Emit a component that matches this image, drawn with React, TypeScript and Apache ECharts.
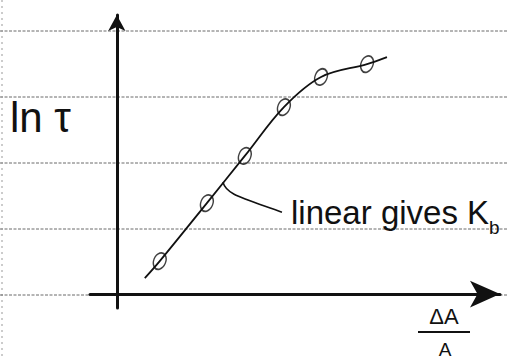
import React, { useEffect, useRef } from "react";
import * as echarts from "echarts";

// Hand-drawn sketch: ln(tau) vs ΔA/A (arbitrary units)
const curveX = [0.73, 1.12, 2.35, 3.34, 4.36, 5.33, 6.53, 7.05];
const curveY = [0.57, 1.18, 3.26, 4.95, 6.7, 7.78, 8.24, 8.49];
const pointX = [1.12, 2.35, 3.34, 4.36, 5.33, 6.53];
const pointY = [1.18, 3.26, 4.95, 6.7, 7.78, 8.24];
const leaderAt = [2.77, 4.01];
const yTitle = "ln τ";
const xTitleTop = "ΔA";
const xTitleBottom = "A";
const noteText = "linear gives K";
const noteSub = "b";
const ruledRows = [31, 97, 163, 229];

const INK = "#111";
const FONT = "Liberation Sans";

export default function App() {
  const ref = useRef<HTMLDivElement>(null);
  useEffect(() => {
    if (!ref.current) return;
    const chart = echarts.init(ref.current, null, { renderer: "svg" });
    chart.setOption({
      animation: false,
      backgroundColor: "#fff",
      grid: { left: 90, top: 15, width: 410, height: 293, containLabel: false },
      xAxis: {
        type: "value",
        min: -0.7,
        max: 10,
        axisLine: {
          show: true,
          onZero: true,
          symbol: ["none", "arrow"],
          symbolSize: [20, 30],
          lineStyle: { color: INK, width: 3 },
        },
        axisTick: { show: false },
        axisLabel: { show: false },
        splitLine: { show: false },
      },
      yAxis: {
        type: "value",
        min: -0.5,
        max: 10,
        axisLine: {
          show: true,
          onZero: true,
          symbol: ["none", "arrow"],
          symbolSize: [13, 16],
          lineStyle: { color: INK, width: 3 },
        },
        axisTick: { show: false },
        axisLabel: { show: false },
        splitLine: { show: false },
      },
      series: [
        {
          type: "scatter",
          data: pointX.map((x, i) => [x, pointY[i]]),
          symbol: "circle",
          symbolSize: [12, 17],
          symbolRotate: -22,
          itemStyle: { color: "rgba(0,0,0,0)", borderColor: INK, borderWidth: 1.6 },
          z: 2,
        },
        {
          type: "line",
          data: curveX.map((x, i) => [x, curveY[i]]),
          smooth: 0.35,
          symbol: "none",
          lineStyle: { color: INK, width: 1.8 },
          z: 3,
        },
      ],
    });

    const [ax, ay] = chart.convertToPixel({ gridIndex: 0 }, leaderAt) as number[];

    const graphic: any[] = [];
    ruledRows.forEach((y) => {
      graphic.push({
        type: "line",
        shape: { x1: 0, y1: y, x2: 508, y2: y },
        style: { stroke: "#6a6a6a", lineWidth: 1, lineDash: [3, 1.5] },
        z: -10,
      });
    });
    graphic.push({
      type: "line",
      shape: { x1: 2, y1: 0, x2: 2, y2: 360 },
      style: { stroke: "#999", lineWidth: 1, lineDash: [2, 4] },
      z: -10,
    });
    graphic.push({
      type: "line",
      shape: { x1: 0, y1: 295, x2: 508, y2: 295 },
      style: { stroke: "#6a6a6a", lineWidth: 1, lineDash: [3, 1.5] },
      z: -10,
    });
    graphic.push({
      type: "bezierCurve",
      shape: {
        x1: ax,
        y1: ay,
        cpx1: ax + 3,
        cpy1: ay + 12,
        cpx2: ax + 17,
        cpy2: ay + 15,
        x2: ax + 59,
        y2: ay + 30,
      },
      style: { stroke: INK, lineWidth: 1.6, fill: null },
    });
    graphic.push({
      type: "text",
      x: 10,
      y: 96,
      style: { text: yTitle, fontSize: 42, fontFamily: FONT, fill: INK, verticalAlign: "top" },
    });
    graphic.push({
      type: "text",
      x: 291,
      y: 229,
      style: {
        text: noteText,
        fontSize: 33,
        fontFamily: FONT,
        fill: INK,
        verticalAlign: "bottom",
      },
    });
    graphic.push({
      type: "text",
      x: 489,
      y: 237,
      style: { text: noteSub, fontSize: 19, fontFamily: FONT, fill: INK, verticalAlign: "bottom" },
    });
    graphic.push({
      type: "text",
      x: 444,
      y: 327,
      style: {
        text: xTitleTop,
        fontSize: 22,
        fontFamily: FONT,
        fill: INK,
        align: "center",
        verticalAlign: "bottom",
      },
    });
    graphic.push({
      type: "line",
      shape: { x1: 418, y1: 332, x2: 470, y2: 332 },
      style: { stroke: INK, lineWidth: 2 },
    });
    graphic.push({
      type: "text",
      x: 445,
      y: 340,
      style: {
        text: xTitleBottom,
        fontSize: 19,
        lineHeight: 19,
        fontFamily: FONT,
        fill: INK,
        align: "center",
        verticalAlign: "top",
      },
    });
    chart.setOption({ graphic });

    return () => chart.dispose();
  }, []);

  return (
    <div
      ref={ref}
      style={{ position: "fixed", left: 0, top: 0, width: 508, height: 360, background: "#fff" }}
    />
  );
}
